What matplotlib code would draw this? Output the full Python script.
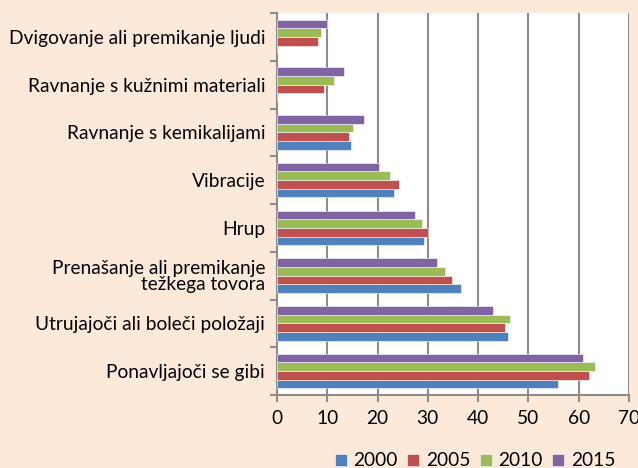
import matplotlib
matplotlib.use("Agg")
import matplotlib.pyplot as plt
import numpy as np

BG = "#FDE9D9"
GRID = "#8C8C8C"
COLORS = ["#4F81BD", "#C0504D", "#9BBB59", "#8064A2"]
FONT = ["Lato", "DejaVu Sans"]

categories = [
    "Ponavljajoči se gibi",
    "Utrujajoči ali boleči položaji",
    "Prenašanje ali premikanje\ntežkega tovora",
    "Hrup",
    "Vibracije",
    "Ravnanje s kemikalijami",
    "Ravnanje s kužnimi materiali",
    "Dvigovanje ali premikanje ljudi",
]
years = ["2000", "2005", "2010", "2015"]
v2000 = [55.8, 45.9, 36.5, 29.3, 23.3, 14.8, 0, 0]
v2005 = [62.1, 45.4, 34.9, 30.1, 24.2, 14.4, 9.3, 8.1]
v2010 = [63.2, 46.3, 33.4, 28.9, 22.4, 15.2, 11.3, 8.8]
v2015 = [60.8, 43.0, 31.8, 27.5, 20.2, 17.3, 13.4, 10.0]
series = [v2000, v2005, v2010, v2015]

FS = 13.8

fig = plt.figure(figsize=(6.38, 4.68), dpi=100)
fig.patch.set_facecolor(BG)
ax = fig.add_axes((277 / 638, 73 / 468, 352 / 638, 382 / 468))
ax.set_facecolor("white")

n = len(categories)
y = np.arange(n)
h = 1 / 5.5
for i, (vals, col) in enumerate(zip(series, COLORS)):
    ax.barh(y + (i - 1.5) * h, vals, height=h, color=col, label=years[i],
            zorder=3, edgecolor="white", linewidth=0.4)

ax.set_xlim(0, 70)
ax.set_ylim(-0.5, n - 0.5)
ax.set_xticks(range(0, 71, 10))
ax.set_yticks(y)
ax.set_yticklabels(categories, fontsize=FS, family=FONT, linespacing=0.95)
ax.set_yticks(np.arange(-0.5, n, 1), minor=True)
ax.tick_params(axis="y", which="major", length=0, pad=8.5)
ax.tick_params(axis="y", which="minor", length=5, width=1.5, color=GRID,
               direction="out")
ax.tick_params(axis="x", length=5, width=1.5, color=GRID, direction="out",
               labelsize=FS, pad=6)
for lbl in ax.get_xticklabels():
    lbl.set_family(FONT)

ax.grid(axis="x", color=GRID, linewidth=1.5, zorder=0)
for s in ["top", "right"]:
    ax.spines[s].set_visible(False)
for s in ["left", "bottom"]:
    ax.spines[s].set_color(GRID)
    ax.spines[s].set_linewidth(1.5)

leg = fig.legend(loc="center right", bbox_to_anchor=(625 / 638, 1 - 461 / 468),
                 ncol=4, frameon=False, borderpad=0, handlelength=0.62,
                 handleheight=0.62, handletextpad=0.35, columnspacing=0.5,
                 prop={"family": FONT, "size": FS})

fig.savefig("out.png", facecolor=BG, dpi=100)
